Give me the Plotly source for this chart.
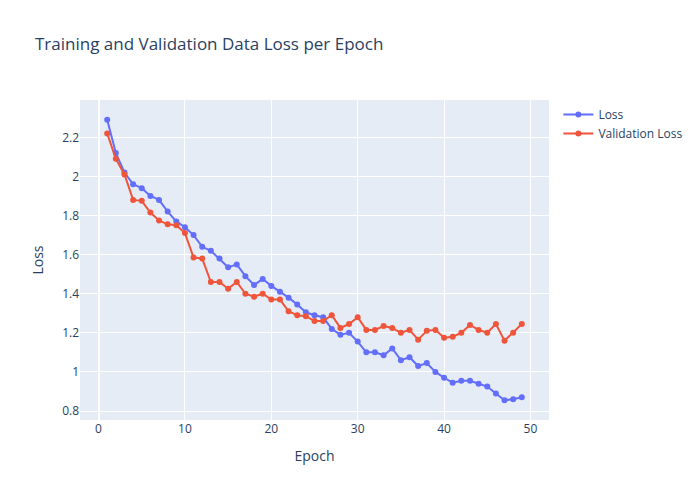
import plotly.graph_objects as go

epochs = list(range(1, 50))
loss = [2.29, 2.12, 2.02, 1.96, 1.94, 1.90, 1.88, 1.82, 1.77, 1.74,
        1.70, 1.64, 1.62, 1.58, 1.535, 1.55, 1.49, 1.445, 1.475, 1.44,
        1.41, 1.38, 1.345, 1.305, 1.29, 1.28, 1.22, 1.19, 1.20, 1.155,
        1.10, 1.10, 1.085, 1.12, 1.06, 1.075, 1.03, 1.045, 1.00, 0.97,
        0.945, 0.955, 0.955, 0.94, 0.925, 0.89, 0.855, 0.86, 0.87]
val_loss = [2.22, 2.09, 2.01, 1.88, 1.875, 1.815, 1.775, 1.755, 1.75, 1.71,
            1.585, 1.58, 1.46, 1.46, 1.425, 1.46, 1.40, 1.385, 1.40, 1.37,
            1.37, 1.31, 1.29, 1.285, 1.26, 1.26, 1.29, 1.225, 1.245, 1.28,
            1.215, 1.215, 1.235, 1.225, 1.20, 1.215, 1.165, 1.21, 1.215, 1.175,
            1.18, 1.20, 1.24, 1.215, 1.20, 1.245, 1.16, 1.20, 1.245]

fig = go.Figure()
fig.add_trace(go.Scatter(x=epochs, y=loss, mode="lines+markers", name="Loss"))
fig.add_trace(go.Scatter(x=epochs, y=val_loss, mode="lines+markers", name="Validation Loss"))
fig.update_layout(
    title="Training and Validation Data Loss per Epoch",
    xaxis_title="Epoch",
    yaxis_title="Loss",
    width=700,
    height=500,
)
fig.write_html("out.html", config={"displayModeBar": False},
               post_script="document.body.style.margin='0';")
